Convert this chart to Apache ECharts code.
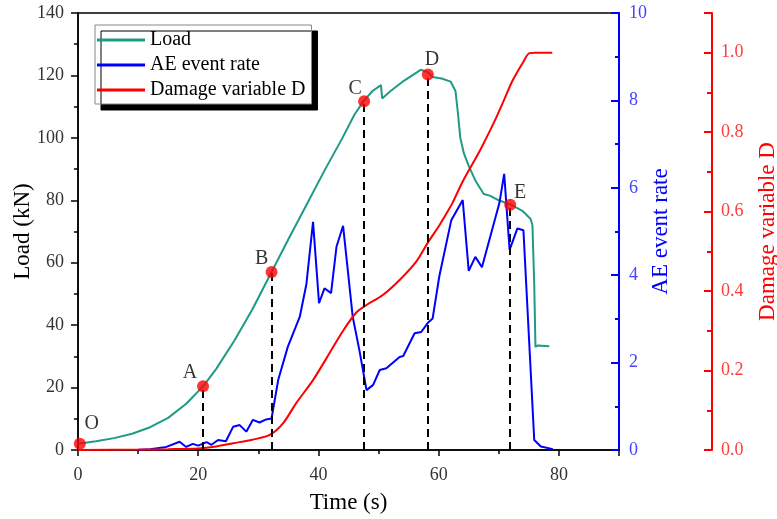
<!DOCTYPE html>
<html>
<head>
<meta charset="utf-8">
<script src="https://cdn.jsdelivr.net/npm/echarts@6/dist/echarts.min.js"></script>
<style>
  html, body { margin: 0; padding: 0; background: #fff; }
  #main { width: 777px; height: 519px; }
</style>
</head>
<body>
<div id="main"></div>
<script>
// Load (kN)
var loadTime = [0, 3, 6, 9, 12, 15, 18, 20.8, 23, 26, 29, 32.2, 35, 38, 41, 44, 46, 47.6, 49, 50.4, 50.6, 52, 54, 56, 57, 58.2, 59, 60.5, 62, 62.8, 63.2, 63.6, 64.2, 65, 66.2, 67.5, 68.5, 70, 72, 74, 75.3, 75.6, 75.9, 76.1, 76.5, 78.4];
var loadVal = [2, 2.8, 3.8, 5.2, 7.3, 10.3, 14.8, 20.4, 26, 35, 45, 57, 67.5, 78.5, 89.5, 100, 107.5, 112, 115, 116.9, 112.6, 115, 118, 120.5, 121.8, 121, 119.5, 119, 118, 115, 108, 100, 95, 91, 86, 82, 81.5, 80, 78.6, 76.5, 74, 72, 53, 33, 33.5, 33.2];

// AE event rate
var aeTime = [10, 12, 14.7, 16.9, 18, 19.1, 20, 21.4, 22.2, 23.3, 24.6, 25.8, 26.9, 28, 29.1, 30.2, 31.3, 32.2, 33.3, 34.9, 36.9, 38, 39.1, 40.1, 41, 42.1, 43, 44.1, 45.7, 46.8, 48, 49.1, 50.2, 51.3, 53.5, 54.1, 56, 57.1, 58.2, 59, 60.1, 62.1, 64, 65, 66.1, 67.2, 70.1, 70.9, 71.8, 73.1, 74.1, 75.9, 77, 79];
var aeVal = [0, 0.02, 0.07, 0.19, 0.07, 0.14, 0.1, 0.18, 0.12, 0.23, 0.2, 0.53, 0.57, 0.42, 0.69, 0.63, 0.7, 0.72, 1.6, 2.36, 3.05, 3.8, 5.22, 3.36, 3.7, 3.59, 4.65, 5.13, 3.05, 2.29, 1.37, 1.49, 1.83, 1.87, 2.13, 2.15, 2.67, 2.7, 2.91, 3.01, 3.97, 5.26, 5.72, 4.1, 4.42, 4.18, 5.65, 6.32, 4.58, 5.07, 5.03, 0.23, 0.08, 0.02];

// Damage variable D
var dTime = [0, 10, 15, 20, 23, 25.8, 29, 31.9, 34.1, 36.3, 39.1, 41.3, 44.1, 46.3, 48, 50.7, 53.5, 56.3, 58.2, 60.1, 61, 62.3, 64, 66.8, 69.3, 70.9, 72.3, 74, 75.1, 76, 78.9];
var dVal = [0, 0.001, 0.002, 0.004, 0.009, 0.017, 0.026, 0.038, 0.067, 0.118, 0.176, 0.23, 0.3, 0.346, 0.365, 0.39, 0.428, 0.475, 0.522, 0.565, 0.588, 0.622, 0.676, 0.752, 0.828, 0.882, 0.93, 0.975, 0.999, 1.0, 1.0];

// characteristic points on the load curve
var keyNames = ['O', 'A', 'B', 'C', 'D', 'E'];
var keyTime = [0.3, 20.8, 32.2, 47.6, 58.2, 71.9];
var keyLoad = [2, 20.4, 57, 111.7, 120.3, 78.6];

var xTicks = [0, 20, 40, 60, 80];

var chart = echarts.init(document.getElementById('main'));

function pairs(xs, ys) {
    return xs.map(function (x, i) { return [x, ys[i]]; });
}

var serif = 'Liberation Serif';

// label offsets from the dot (px)
var labelOff = {
    O: [12, -20], A: [-13, -14], B: [-10, -13], C: [-9, -13], D: [4, -15], E: [10, -12]
};

var keyData = keyNames.map(function (n, i) {
    var o = labelOff[n];
    return {
        name: n,
        value: [keyTime[i], keyLoad[i]],
        label: { position: [o[0] + 6, o[1] + 6] }
    };
});

var dashLines = [];
for (var i = 1; i < keyNames.length; i++) {
    dashLines.push([{ coord: [keyTime[i], 0] }, { coord: [keyTime[i], keyLoad[i]] }]);
}

var option = {
    animation: false,
    backgroundColor: '#fff',
    textStyle: { fontFamily: serif },
    grid: {
        left: 78, right: 158, top: 13, bottom: 69,
        containLabel: false, outerBoundsMode: 'none',
        show: true, borderColor: '#000', borderWidth: 1.5
    },
    legend: {
        orient: 'vertical',
        left: 95, top: 25,
        data: ['Load', 'AE event rate', 'Damage variable D'],
        icon: 'rect',
        itemWidth: 48, itemHeight: 3, itemGap: 5,
        padding: [5, 6, 4, 2],
        backgroundColor: '#fff',
        borderColor: '#888', borderWidth: 1,
        shadowColor: '#000', shadowBlur: 0, shadowOffsetX: 6, shadowOffsetY: 6,
        textStyle: { fontFamily: serif, fontSize: 20, color: '#000' }
    },
    xAxis: {
        type: 'value', min: 0, max: 90, interval: 20,
        name: 'Time (s)', nameLocation: 'middle', nameGap: 41, nameMoveOverlap: false,
        nameTextStyle: { fontFamily: serif, fontSize: 23, color: '#000' },
        axisLine: { onZero: false, lineStyle: { color: '#000', width: 1.5 } },
        axisTick: { length: 6, lineStyle: { color: '#000', width: 1.5 } },
        minorTick: { show: true, splitNumber: 2, length: 4, lineStyle: { color: '#000', width: 1.5 } },
        axisLabel: {
            fontFamily: serif, fontSize: 18, color: '#333', margin: 16,
            formatter: function (v) { return xTicks.indexOf(v) >= 0 ? String(v) : ''; }
        },
        splitLine: { show: false }
    },
    yAxis: [{
        type: 'value', min: 0, max: 140, interval: 20, position: 'left',
        name: 'Load (kN)', nameLocation: 'middle', nameGap: 44, nameRotate: 90, nameMoveOverlap: false,
        nameTextStyle: { fontFamily: serif, fontSize: 23, color: '#000' },
        axisLine: { show: true, lineStyle: { color: '#000', width: 1.5 } },
        axisTick: { length: 7, lineStyle: { color: '#000', width: 1.5 } },
        minorTick: { show: true, splitNumber: 2, length: 4, lineStyle: { color: '#000', width: 1.5 } },
        axisLabel: { fontFamily: serif, fontSize: 18, color: '#333', margin: 14 },
        splitLine: { show: false }
    }, {
        type: 'value', min: 0, max: 10, interval: 2, position: 'right',
        name: 'AE event rate', nameLocation: 'middle', nameGap: 30, nameRotate: 90, nameMoveOverlap: false,
        nameTextStyle: { fontFamily: serif, fontSize: 23, color: '#0000ff' },
        axisLine: { show: true, lineStyle: { color: '#0000ff', width: 2 } },
        axisTick: { inside: true, length: 8, lineStyle: { color: '#0000ff', width: 2 } },
        minorTick: { show: true, splitNumber: 2, length: 4, lineStyle: { color: '#0000ff', width: 2 } },
        axisLabel: { fontFamily: serif, fontSize: 18, color: '#4444ff', margin: 10 },
        splitLine: { show: false }
    }, {
        type: 'value', min: 0, max: 1.1, interval: 0.2, position: 'right', offset: 93,
        name: 'Damage variable D', nameLocation: 'middle', nameGap: 44, nameRotate: 90, nameMoveOverlap: false,
        nameTextStyle: { fontFamily: serif, fontSize: 23, color: '#ff0000' },
        axisLine: { show: true, lineStyle: { color: '#ff0000', width: 2 } },
        axisTick: { inside: true, length: 8, lineStyle: { color: '#ff0000', width: 2 } },
        minorTick: { show: true, splitNumber: 2, length: 5, lineStyle: { color: '#ff0000', width: 2 } },
        axisLabel: {
            fontFamily: serif, fontSize: 18, color: '#ff3c3c', margin: 9,
            formatter: function (v) { return v > 1.05 ? '' : v.toFixed(1); }
        },
        splitLine: { show: false }
    }],
    series: [{
        name: 'Load', type: 'line', yAxisIndex: 0,
        symbol: 'none',
        lineStyle: { color: '#1f9a86', width: 2 },
        itemStyle: { color: '#1f9a86' },
        data: pairs(loadTime, loadVal)
    }, {
        name: 'AE event rate', type: 'line', yAxisIndex: 1,
        symbol: 'none',
        lineStyle: { color: '#0000ff', width: 2 },
        itemStyle: { color: '#0000ff' },
        data: pairs(aeTime, aeVal)
    }, {
        name: 'Damage variable D', type: 'line', yAxisIndex: 2,
        symbol: 'none', smooth: 0.3,
        lineStyle: { color: '#ff0000', width: 2 },
        itemStyle: { color: '#ff0000' },
        data: pairs(dTime, dVal)
    }, {
        name: 'points', type: 'scatter', yAxisIndex: 0,
        symbolSize: 12, z: 5,
        itemStyle: { color: '#ff0000' },
        label: {
            show: true, formatter: '{b}', align: 'center', verticalAlign: 'middle',
            fontFamily: serif, fontSize: 20, color: '#000'
        },
        markLine: {
            silent: true, symbol: ['none', 'none'], label: { show: false },
            lineStyle: { color: '#000', width: 2, type: [8, 5] },
            data: dashLines
        },
        data: keyData
    }]
};

chart.setOption(option);
</script>
</body>
</html>
